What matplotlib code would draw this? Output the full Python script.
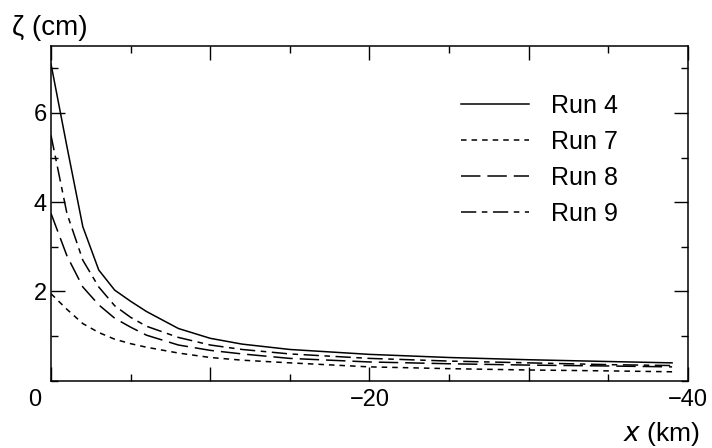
import matplotlib
matplotlib.use("Agg")
import matplotlib.pyplot as plt
import matplotlib.transforms as mtransforms
from matplotlib.ticker import MultipleLocator

plt.rcParams["font.family"] = ["Liberation Sans", "DejaVu Sans"]
plt.rcParams["lines.scale_dashes"] = False

# Along-channel distance (km) and surface elevation (cm) for each run
x_km = [0, -1, -2, -3, -4, -5, -6, -8, -10, -12, -15, -20, -25, -30, -35, -39]
run4 = [7.1, 5.25, 3.45, 2.48, 2.03, 1.78, 1.55, 1.17, 0.95, 0.82, 0.7, 0.59, 0.52, 0.47, 0.43, 0.40]
run7 = [1.95, 1.6, 1.28, 1.08, 0.93, 0.83, 0.75, 0.62, 0.52, 0.46, 0.4, 0.31, 0.27, 0.24, 0.22, 0.2]
run8 = [3.75, 2.8, 2.1, 1.7, 1.4, 1.2, 1.02, 0.8, 0.68, 0.6, 0.5, 0.42, 0.38, 0.35, 0.33, 0.31]
run9 = [5.5, 3.75, 2.7, 2.1, 1.68, 1.42, 1.22, 0.97, 0.8, 0.7, 0.6, 0.5, 0.44, 0.4, 0.36, 0.34]

labels = ["Run 4", "Run 7", "Run 8", "Run 9"]
xtick_vals = [0, -10, -20, -30, -40]
xtick_labels = ["0", "", "\u221220", "", "\u221240"]
ytick_vals = [2, 4, 6]

fig = plt.figure(figsize=(7.12, 4.48), dpi=100)
ax = fig.add_axes([0.0716, 0.1502, 0.8947, 0.7471])

lw = 1.1
ax.plot(x_km, run4, color="black", lw=lw, linestyle="-", label=labels[0])
ax.plot(x_km, run7, color="black", lw=lw, linestyle=(0, (4, 3.6)), label=labels[1])
ax.plot(x_km, run8, color="black", lw=lw, linestyle=(0, (14, 5)), label=labels[2])
ax.plot(x_km, run9, color="black", lw=lw, linestyle=(0, (11, 4, 4, 4)), label=labels[3])

ax.set_xlim(0, -40)
ax.set_ylim(0, 7.5)

ax.set_xticks(xtick_vals)
ax.set_xticklabels(xtick_labels)
ax.xaxis.set_minor_locator(MultipleLocator(5))
ax.set_yticks(ytick_vals)
ax.yaxis.set_minor_locator(MultipleLocator(1))

ax.tick_params(which="both", direction="in", top=True, right=True,
               width=1.0, labelsize=17, colors="black")
ax.tick_params(which="major", length=10)
ax.tick_params(which="minor", length=5)
ax.tick_params(axis="x", which="major", pad=6)
ax.tick_params(axis="y", which="major", pad=3)

# shared origin label sits a bit left of the corner
offset = mtransforms.ScaledTranslation(-12 / 72, 0, fig.dpi_scale_trans)
lbl0 = ax.get_xticklabels()[0]
lbl0.set_transform(lbl0.get_transform() + offset)

for sp in ax.spines.values():
    sp.set_linewidth(1.1)

ax.legend(loc="upper left", bbox_to_anchor=(0.644, 0.857), frameon=False,
          fontsize=18, handlelength=2.72, handletextpad=0.88,
          labelspacing=0.48, borderpad=0, borderaxespad=0)

fig.text(12 / 712, 1 - 35 / 448, "\u03b6 (cm)", fontsize=20, ha="left", va="baseline")
fig.text(700 / 712, 1 - 441 / 448, "$\\mathit{x}$ (km)", fontsize=19, ha="right", va="baseline")

fig.savefig("out.png", dpi=100)
